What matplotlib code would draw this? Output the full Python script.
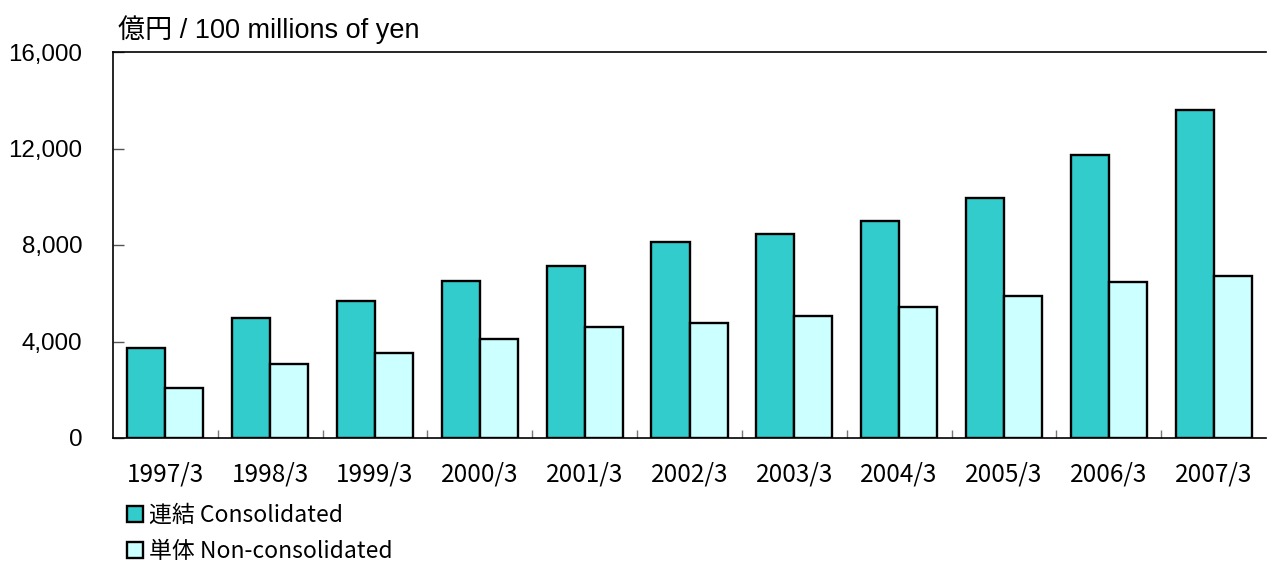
import numpy as np
import matplotlib.pyplot as plt
from matplotlib.patches import Patch

years = ['1997/3', '1998/3', '1999/3', '2000/3', '2001/3', '2002/3',
         '2003/3', '2004/3', '2005/3', '2006/3', '2007/3']
consolidated = [3730, 4970, 5680, 6510, 7130, 8120, 8460, 9000, 9950, 11730, 13600]
non_consolidated = [2070, 3070, 3520, 4100, 4600, 4770, 5060, 5430, 5890, 6470, 6720]

jp = ['Noto Sans CJK JP', 'DejaVu Sans']
latin = ['Liberation Sans', 'Noto Sans CJK JP']
plt.rcParams['font.family'] = jp

fig = plt.figure(figsize=(12.68, 5.61), dpi=100)
ax = fig.add_axes([113 / 1268, 1 - 438 / 561, 1153 / 1268, 386 / 561])

x = np.arange(len(years))
w = 0.363
ax.bar(x - w / 2, consolidated, w, color='#33CCCC', edgecolor='black', linewidth=1.7, zorder=3)
ax.bar(x + w / 2, non_consolidated, w, color='#CCFFFF', edgecolor='black', linewidth=1.7, zorder=3)

ax.set_xlim(-0.5, len(years) - 0.5)
ax.set_ylim(0, 16000)
ax.set_yticks(np.arange(0, 16001, 4000))
ax.set_yticklabels([f'{v:,}' for v in range(0, 16001, 4000)],
                   fontsize=17.4, family=latin)
ax.tick_params(axis='y', direction='in', length=8, width=1, color='#555555', pad=22)

ax.set_xticks(x)
ax.set_xticklabels(years, fontsize=17.5)
ax.tick_params(axis='x', which='major', length=0, pad=17)
ax.set_xticks(np.arange(0.5, len(years) - 0.5), minor=True)
ax.tick_params(axis='x', which='minor', direction='in', length=6, width=1, color='#777777')

ax.spines['right'].set_visible(False)
for s in ['left', 'top', 'bottom']:
    ax.spines[s].set_linewidth(1.2)

fig.text(118 / 1268, 1 - 30 / 561, '億円 / 100 millions of yen', fontsize=19.5,
         va='center', ha='left', family=latin)

handles = [Patch(facecolor='#33CCCC', edgecolor='black', linewidth=1.7),
           Patch(facecolor='#CCFFFF', edgecolor='black', linewidth=1.7)]
fig.legend(handles, ['連結 Consolidated', '単体 Non-consolidated'],
           loc='upper left', bbox_to_anchor=(127 / 1268, 1 - 504 / 561),
           frameon=False, fontsize=16.5, handlelength=0.7, handleheight=0.7,
           handletextpad=0.25, labelspacing=0.58, borderaxespad=0, borderpad=0)

fig.savefig('out.png', dpi=100)
